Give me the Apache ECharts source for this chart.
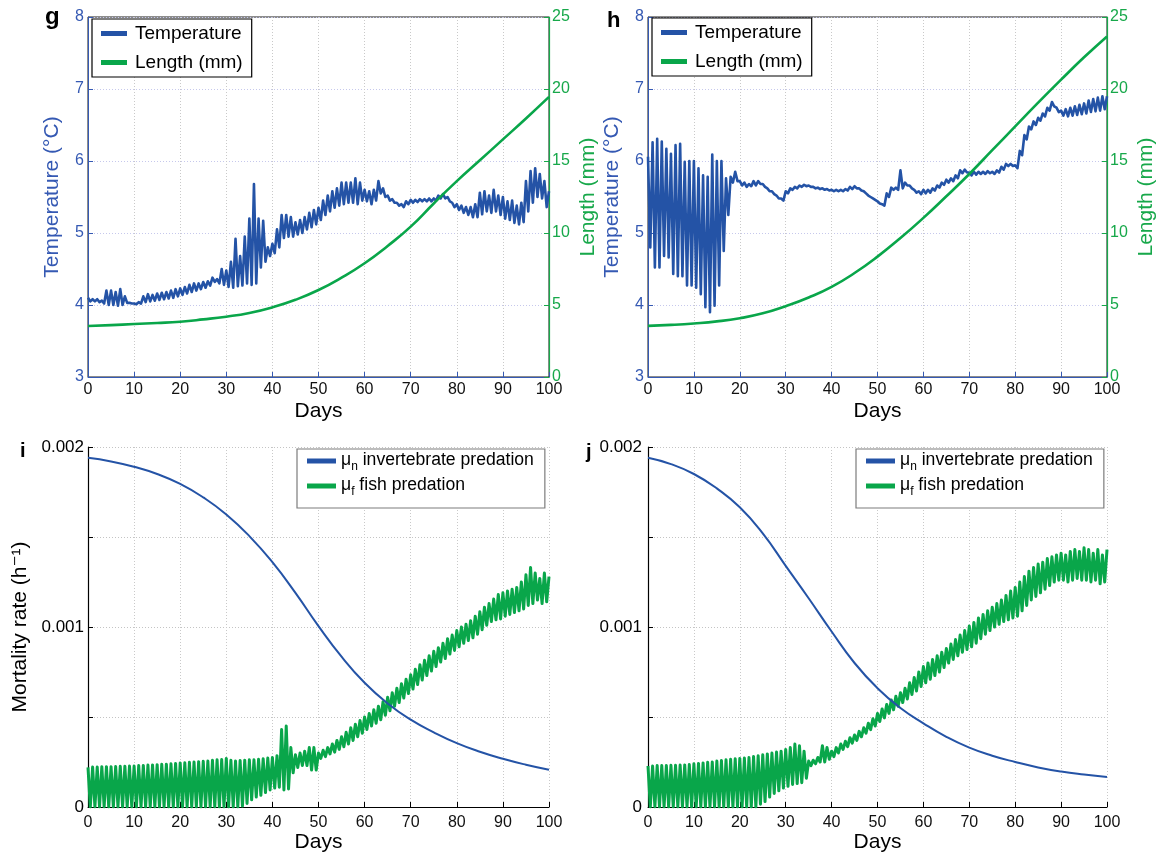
<!DOCTYPE html>
<html>
<head>
<meta charset="utf-8">
<script src="https://cdn.jsdelivr.net/npm/echarts@6/dist/echarts.min.js"></script>
<style>
html,body{margin:0;padding:0;background:#fff;}
#c{width:1163px;height:857px;}
</style>
</head>
<body>
<div id="c"></div>
<script>
// ---------------- DATA ----------------
// Day axis
const dayTicks = [0,10,20,30,40,50,60,70,80,90,100];
// smooth curves sampled every 5 days
const days5 = [0,5,10,15,20,25,30,35,40,45,50,55,60,65,70,75,80,85,90,95,100];

// Panel g: temperature (°C) – daily highs at day d, lows at day d+0.5
const tempG_hi = [4.10,4.08,4.08,4.06,4.20,4.20,4.18,4.22,4.12,4.03, 4.02,4.04,4.12,4.15,4.14,4.16,4.17,4.18,4.20,4.22,
  4.23,4.25,4.28,4.30,4.30,4.32,4.33,4.38,4.36,4.50, 4.48,4.60,4.92,4.68,4.95,5.20,5.68,5.20,5.17,4.80,
  4.85,5.05,5.25,5.25,5.22,5.15,5.18,5.22,5.28,5.32, 5.35,5.45,5.52,5.58,5.62,5.70,5.70,5.70,5.76,5.70,
  5.60,5.58,5.60,5.72,5.62,5.52,5.47,5.42,5.40,5.44, 5.46,5.46,5.47,5.47,5.48,5.48,5.52,5.54,5.50,5.42,
  5.40,5.38,5.36,5.36,5.40,5.56,5.58,5.52,5.60,5.52, 5.50,5.44,5.45,5.38,5.42,5.72,5.86,5.90,5.82,5.72, 5.58];
const tempG_lo = [4.05,4.05,4.04,4.02,4.00,4.00,3.99,4.00,4.03,4.02, 4.01,4.02,4.04,4.05,4.06,4.07,4.08,4.09,4.10,4.12,
  4.14,4.16,4.18,4.20,4.22,4.24,4.27,4.32,4.30,4.28, 4.25,4.24,4.26,4.27,4.30,4.28,4.30,4.52,4.60,4.68,
  4.72,4.80,4.93,4.95,4.95,4.98,5.00,5.05,5.08,5.12, 5.18,5.25,5.30,5.35,5.38,5.40,5.42,5.42,5.40,5.45,
  5.44,5.40,5.45,5.55,5.50,5.45,5.42,5.38,5.36,5.40, 5.42,5.43,5.44,5.44,5.44,5.45,5.48,5.48,5.44,5.36,
  5.32,5.28,5.25,5.22,5.22,5.26,5.30,5.28,5.30,5.25, 5.20,5.18,5.14,5.12,5.15,5.30,5.42,5.50,5.48,5.36];
// Panel g: length (mm)
const lengthG = [3.54,3.60,3.68,3.75,3.84,4.00,4.19,4.45,4.84,5.36,6.04,6.90,7.90,9.10,10.44,12.05,13.60,15.05,16.50,17.95,19.45];

// Panel h: temperature (°C)
const tempH_hi = [6.06,6.26,6.31,6.27,6.17,6.10,6.22,6.24,5.99,6.00, 6.00,5.90,5.80,5.78,6.09,6.00,6.00,5.76,5.78,5.85,
  5.72,5.70,5.68,5.72,5.72,5.68,5.62,5.58,5.52,5.48, 5.58,5.62,5.64,5.66,5.67,5.66,5.64,5.63,5.62,5.61,
  5.60,5.60,5.60,5.61,5.64,5.65,5.62,5.58,5.52,5.48, 5.44,5.40,5.55,5.63,5.63,5.87,5.70,5.66,5.60,5.58,
  5.60,5.60,5.62,5.66,5.70,5.74,5.76,5.80,5.87,5.88, 5.84,5.85,5.85,5.85,5.86,5.85,5.87,5.92,5.96,5.96,
  5.94,6.14,6.36,6.48,6.55,6.60,6.66,6.74,6.82,6.74, 6.70,6.72,6.74,6.76,6.78,6.80,6.84,6.86,6.88,6.90, 6.90];
const tempH_lo = [4.80,4.52,4.52,4.68,4.66,4.43,4.40,4.40,4.27,4.27, 4.24,4.15,3.97,3.90,3.99,4.27,4.75,5.25,5.70,5.72,
  5.66,5.64,5.65,5.66,5.68,5.64,5.58,5.54,5.48,5.45, 5.55,5.60,5.62,5.64,5.65,5.64,5.62,5.61,5.60,5.59,
  5.58,5.58,5.58,5.59,5.61,5.62,5.59,5.55,5.50,5.46, 5.41,5.38,5.50,5.60,5.60,5.62,5.66,5.62,5.56,5.54,
  5.55,5.56,5.59,5.63,5.67,5.70,5.72,5.76,5.83,5.84, 5.80,5.81,5.82,5.82,5.83,5.82,5.84,5.88,5.93,5.93,
  5.90,6.08,6.30,6.44,6.50,6.56,6.62,6.70,6.76,6.68, 6.63,6.62,6.63,6.64,6.65,6.66,6.68,6.69,6.70,6.72];
// Panel h: length (mm)
const lengthH = [3.55,3.62,3.72,3.86,4.08,4.42,4.92,5.52,6.26,7.22,8.36,9.65,11.05,12.55,14.10,15.75,17.40,19.05,20.65,22.20,23.65];

// Panels i, j: mortality rates in units of 1e-4 h^-1
const muN_i = [19.4,19.2,18.9,18.5,17.95,17.2,16.25,15.05,13.6,11.9,10.05,8.35,6.9,5.75,4.85,4.15,3.55,3.07,2.68,2.35,2.07];
const muF_i_hi = [2.20,2.22,2.22,2.24,2.24,2.24,2.25,2.26,2.27,2.28, 2.28,2.30,2.31,2.33,2.34,2.35,2.37,2.38,2.40,2.42,
  2.45,2.46,2.48,2.50,2.52,2.54,2.55,2.60,2.62,2.64, 2.70,2.60,2.55,2.58,2.60,2.62,2.62,2.65,2.68,2.72,
  2.75,2.85,4.30,4.50,3.30,2.90,3.00,3.10,3.30,3.30, 3.00,3.15,3.30,3.50,3.70,3.90,4.15,4.40,4.60,4.80,
  5.00,5.20,5.40,5.60,5.85,6.10,6.35,6.60,6.85,7.10, 7.35,7.65,7.90,8.15,8.40,8.65,8.85,9.10,9.35,9.55,
  9.80,10.00,10.15,10.35,10.60,10.85,11.10,11.30,11.55,11.80, 11.90,12.00,12.10,12.20,12.50,12.90,13.30,13.00,12.70,13.00, 12.80];
const muF_i_lo = [0,0,0,0,0,0,0,0,0,0, 0,0,0,0,0,0,0,0,0,0,
  0,0,0,0,0,0,0,0,0,0, 0,0,0,0.05,0.20,0.40,0.55,0.65,0.80,0.95,
  1.05,1.10,0.95,1.00,1.90,2.20,2.30,2.30,2.05,2.05, 2.70,2.80,2.95,3.05,3.20,3.35,3.50,3.70,3.90,4.10,
  4.30,4.50,4.65,4.85,5.10,5.35,5.60,5.80,6.05,6.30, 6.55,6.80,7.05,7.30,7.55,7.80,8.05,8.25,8.50,8.70,
  8.90,9.10,9.25,9.40,9.60,9.85,10.10,10.30,10.40,10.45, 10.60,10.70,10.80,10.90,11.00,11.20,11.30,11.50,11.30,11.40];

const muN_j = [19.4,19.05,18.5,17.7,16.65,15.2,13.4,11.6,9.75,8.0,6.6,5.5,4.65,3.9,3.3,2.85,2.5,2.2,1.97,1.8,1.66];
const muF_j_hi = [2.28,2.28,2.30,2.30,2.30,2.32,2.32,2.33,2.34,2.36, 2.40,2.42,2.45,2.48,2.50,2.55,2.58,2.62,2.65,2.68,
  2.70,2.72,2.75,2.80,2.85,2.90,2.95,3.00,3.05,3.10, 3.20,3.30,3.50,3.40,3.10,2.55,2.60,2.75,3.40,3.30,
  3.10,3.30,3.50,3.65,3.85,4.00,4.20,4.40,4.65,4.90, 5.20,5.45,5.70,5.95,6.15,6.35,6.60,6.90,7.20,7.50,
  7.80,8.00,8.20,8.40,8.60,8.80,9.05,9.30,9.55,9.80, 10.05,10.25,10.50,10.70,10.90,11.10,11.30,11.50,11.75,12.00,
  12.20,12.50,12.80,13.10,13.30,13.50,13.60,13.80,13.90,14.00, 14.10,14.00,14.20,14.30,14.20,14.40,14.30,14.10,14.30,14.00, 14.30];
const muF_j_lo = [0,0,0,0,0,0,0,0,0,0, 0,0,0,0,0,0,0,0,0,0,
  0,0,0,0,0.15,0.30,0.55,0.75,0.90,1.05, 1.15,1.25,1.30,1.35,1.60,2.30,2.40,2.50,2.50,2.65,
  2.80,3.00,3.20,3.35,3.55,3.70,3.90,4.10,4.30,4.50, 4.75,4.95,5.20,5.40,5.60,5.80,6.00,6.25,6.45,6.70,
  6.90,7.10,7.30,7.50,7.75,8.00,8.20,8.40,8.60,8.75, 8.90,9.10,9.35,9.60,9.80,10.00,10.15,10.30,10.40,10.50,
  10.60,10.90,11.20,11.50,11.70,11.90,12.10,12.30,12.50,12.60, 12.60,12.50,12.60,12.70,12.60,12.60,12.50,12.60,12.40,12.50];

// Tick labels of mortality axis (value in 1e-4 units -> label)
const muTickValues = [0, 10, 20];
const muTickLabels = ['0', '0.001', '0.002'];
// ------------------------------------------------------------------------

const FONT = '"Liberation Sans", Arial, Helvetica, sans-serif';
const BLUE = '#2453a6';
const BLUE_TXT = '#3559b3';
const GREEN = '#09a64a';
const GREEN_TXT = '#17a84a';

function osc(hi, lo) {
  const out = [];
  for (let d = 0; d < hi.length; d++) {
    out.push([d, hi[d]]);
    if (d < lo.length) out.push([d + 0.5, lo[d]]);
  }
  return out;
}
function pairs(xs, ys) { return xs.map((x, i) => [x, ys[i]]); }

function xAxisCfg(gi, lineColor, labelMargin, nameGap) {
  return {
    type: 'value', gridIndex: gi, min: 0, max: 100, interval: 10,
    axisLine: { show: true, onZero: false, lineStyle: { color: lineColor, width: 1 } },
    axisTick: { show: true, inside: true, length: 5, lineStyle: { color: lineColor } },
    axisLabel: { fontSize: 16, color: '#111', margin: labelMargin, fontFamily: FONT },
    splitLine: { show: true, lineStyle: { color: '#c9c9c9', type: [1, 2], width: 1 } },
    name: 'Days', nameLocation: 'middle', nameGap: nameGap,
    nameTextStyle: { fontSize: 21, color: '#000', fontFamily: FONT }
  };
}
function tempAxis(gi) {
  return {
    type: 'value', gridIndex: gi, position: 'left', min: 3, max: 8, interval: 1,
    axisLine: { show: true, lineStyle: { color: BLUE_TXT, width: 1 } },
    axisTick: { show: true, inside: true, length: 5, lineStyle: { color: BLUE_TXT } },
    axisLabel: { fontSize: 16, color: BLUE_TXT, margin: 4, fontFamily: FONT },
    splitLine: { show: true, lineStyle: { color: '#c6c8ec', type: [1, 2], width: 1 } },
    name: 'Temperature (°C)', nameLocation: 'middle', nameGap: 25, nameRotate: 90,
    nameTextStyle: { fontSize: 21, color: BLUE_TXT, fontFamily: FONT }
  };
}
function lenAxis(gi) {
  return {
    type: 'value', gridIndex: gi, position: 'right', min: 0, max: 25, interval: 5,
    axisLine: { show: true, lineStyle: { color: GREEN_TXT, width: 1.2 } },
    axisTick: { show: true, inside: true, length: 5, lineStyle: { color: GREEN_TXT } },
    axisLabel: { fontSize: 16, color: GREEN_TXT, margin: 3, fontFamily: FONT },
    splitLine: { show: false },
    name: 'Length (mm)', nameLocation: 'middle', nameGap: 29, nameRotate: 90,
    nameTextStyle: { fontSize: 21, color: GREEN_TXT, fontFamily: FONT }
  };
}
function muAxis(gi, withName, margin) {
  const a = {
    type: 'value', gridIndex: gi, min: 0, max: 20, interval: 5,
    axisLine: { show: true, lineStyle: { color: '#000', width: 1.2 } },
    axisTick: { show: true, inside: true, length: 5, lineStyle: { color: '#000' } },
    axisLabel: {
      fontSize: 17, color: '#000', margin: margin, fontFamily: FONT,
      formatter: v => { const k = muTickValues.indexOf(Math.round(v)); return k >= 0 && Math.abs(v - Math.round(v)) < 1e-6 ? muTickLabels[k] : ''; }
    },
    splitLine: { show: true, lineStyle: { color: '#c4c4c4', type: [1, 2], width: 1 } }
  };
  if (withName) {
    a.name = 'Mortality rate (h\u207B\u00B9)';
    a.nameLocation = 'middle'; a.nameGap = 57; a.nameRotate = 90;
    a.nameTextStyle = { fontSize: 21, color: '#000', fontFamily: 'Liberation Sans, DejaVu Sans, sans-serif' };
  }
  return a;
}
function lineSeries(name, xi, yi, data, color, width, smooth, z) {
  return {
    type: 'line', name: name, xAxisIndex: xi, yAxisIndex: yi, data: data,
    showSymbol: false, symbol: 'none', smooth: smooth,
    lineStyle: { color: color, width: width, join: 'round' }, itemStyle: { color: color },
    z: z, animation: false
  };
}
function tlegend(left, top) {
  return {
    data: ['Temperature', 'Length (mm)'], left: left, top: top, orient: 'vertical',
    icon: 'rect', itemWidth: 26, itemHeight: 5, itemGap: 10,
    padding: [5, 9, 5, 9], borderColor: '#000', borderWidth: 1.2, backgroundColor: '#fff',
    textStyle: { fontSize: 19, color: '#000', fontFamily: FONT, padding: [0, 0, 0, 3] },
    selectedMode: false
  };
}
function mlegend(left, top) {
  return {
    data: ['mun', 'muf'], left: left, top: top, orient: 'vertical',
    icon: 'rect', itemWidth: 29, itemHeight: 5, itemGap: 3,
    padding: [2, 11, 10, 10], borderColor: '#7c7c7c', borderWidth: 1.2, backgroundColor: '#fff',
    formatter: n => n === 'mun' ? '{m|\u03BC}{s|n}{t| invertebrate predation}' : '{m|\u03BC}{s|f}{t| fish predation}',
    textStyle: {
      fontSize: 17.6, color: '#000', fontFamily: FONT,
      rich: {
        m: { fontSize: 17.6, lineHeight: 20, verticalAlign: 'top', fontFamily: FONT },
        s: { fontSize: 12, lineHeight: 12, verticalAlign: 'top', padding: [10, 0, 0, 0], fontFamily: FONT },
        t: { fontSize: 17.6, lineHeight: 20, verticalAlign: 'top', fontFamily: FONT }
      }
    },
    selectedMode: false
  };
}

const option = {
  backgroundColor: '#fff',
  animation: false,
  grid: [
    { left: 88, top: 17, width: 461, height: 360, show: true, borderColor: '#1a1a1a', borderWidth: 1, backgroundColor: 'transparent' },
    { left: 648, top: 17, width: 459, height: 360, show: true, borderColor: '#1a1a1a', borderWidth: 1, backgroundColor: 'transparent' },
    { left: 88, top: 447, width: 461, height: 360 },
    { left: 648, top: 447, width: 459, height: 360 }
  ],
  xAxis: [
    xAxisCfg(0, BLUE_TXT, 5, 24),
    xAxisCfg(1, BLUE_TXT, 5, 24),
    xAxisCfg(2, '#000', 8, 25),
    xAxisCfg(3, '#000', 8, 25)
  ],
  yAxis: [
    tempAxis(0), lenAxis(0), tempAxis(1), lenAxis(1),
    muAxis(2, true, 4), muAxis(3, false, 6)
  ],
  legend: [tlegend(92, 19), tlegend(652, 18), mlegend(297, 449), mlegend(856, 449)],
  series: [
    lineSeries('Temperature', 0, 0, osc(tempG_hi, tempG_lo), BLUE, 2.6, false, 3),
    lineSeries('Length (mm)', 0, 1, pairs(days5, lengthG), GREEN, 2.6, true, 4),
    lineSeries('Temperature', 1, 2, osc(tempH_hi, tempH_lo), BLUE, 2.6, false, 3),
    lineSeries('Length (mm)', 1, 3, pairs(days5, lengthH), GREEN, 2.6, true, 4),
    lineSeries('muf', 2, 4, osc(muF_i_hi, muF_i_lo), GREEN, 3, false, 3),
    lineSeries('mun', 2, 4, pairs(days5, muN_i), BLUE, 2, true, 4),
    lineSeries('muf', 3, 5, osc(muF_j_hi, muF_j_lo), GREEN, 3, false, 3),
    lineSeries('mun', 3, 5, pairs(days5, muN_j), BLUE, 2, true, 4)
  ],
  graphic: [
    { type: 'text', left: 45, top: 5, style: { text: 'g', font: 'bold 24px ' + FONT, fill: '#000' } },
    { type: 'text', left: 607, top: 10, style: { text: 'h', font: 'bold 22px ' + FONT, fill: '#000' } },
    { type: 'text', left: 20, top: 441, style: { text: 'i', font: 'bold 20px ' + FONT, fill: '#000' } },
    { type: 'text', left: 586, top: 442, style: { text: 'j', font: 'bold 20px ' + FONT, fill: '#000' } }
  ]
};

const chart = echarts.init(document.getElementById('c'), null, { renderer: 'canvas' });
chart.setOption(option);
</script>
</body>
</html>
